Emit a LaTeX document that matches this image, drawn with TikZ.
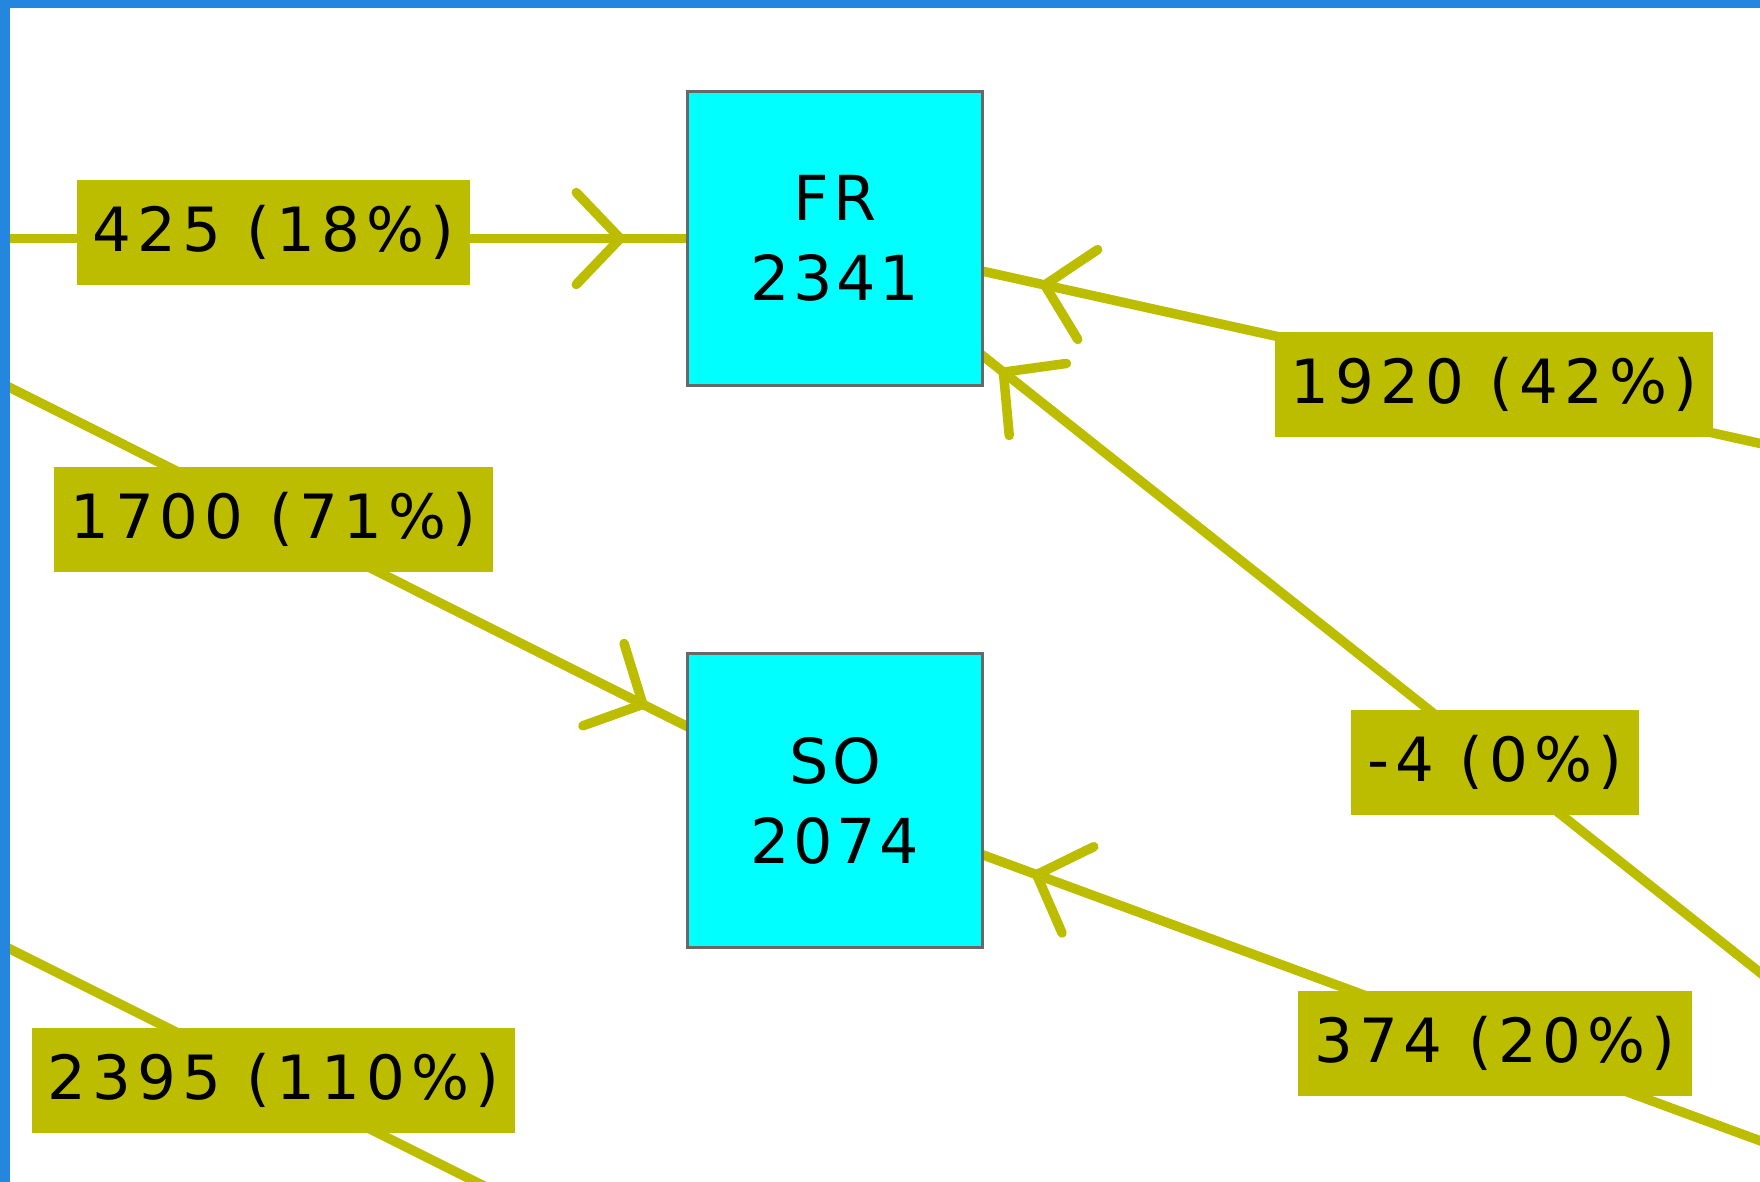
\documentclass[tikz,border=0pt]{standalone}
\usepackage{fontspec}
\setmainfont{DejaVu Sans}[LetterSpace=6]
\newfontfamily\flowfont{DejaVu Sans}[LetterSpace=10]
\usetikzlibrary{arrows.meta,backgrounds,decorations.markings}

\definecolor{flowcol}{RGB}{189,189,0}
\definecolor{boxcol}{RGB}{0,255,255}
\definecolor{rimcol}{RGB}{104,104,104}
\definecolor{framecol}{RGB}{36,134,222}

\begin{document}
\begin{tikzpicture}[x=1pt,y=-1pt,node distance=562pt,
                    flow/.style={color=flowcol,line width=9.5pt},
                    into/.style={postaction={decorate},decoration={markings,
                      mark=at position -210pt with {\arrow{Straight Barb[length=44pt,width=92pt,round]}}}}]
  \tikzstyle{region}=[draw=rimcol,line width=3.5pt,fill=boxcol,text=black,
                      minimum width=295pt,minimum height=294pt,inner sep=0pt,
                      align=center,font=\fontsize{62}{80}\selectfont]
  \tikzstyle{amount}=[fill=flowcol,text=black,inner xsep=16pt,inner ysep=0pt,
                      minimum height=105pt,font=\flowfont\fontsize{61}{61}\selectfont]

  \useasboundingbox (0,0) rectangle (1760,1182);

  \node[region] (FR) at (835,238.5)  {FR\\2341};
  \node[region] (SO) [below of=FR]   {SO\\2074};

  % nodes beyond the visible part
  \coordinate (westA)  at (-288,238.5);
  \coordinate (westB)  at (-288,800);
  \coordinate (southC) at (835,1361.5);
  \coordinate (eastD)  at (2153,530.5);
  \coordinate (eastE)  at (2155,1286);

  \begin{scope}[on background layer]
    \fill[white] (0,0) rectangle (1760,1182);
    \path (westA) edge [flow,into] node[amount,yshift=6pt] {425 (18\%)} (FR.center)
                  edge [flow,into] node[amount] {1700 (71\%)} (SO.center)
          (westB) edge [flow]      node[amount] {2395 (110\%)} (southC)
          (eastD) edge [flow,into] node[amount] {1920 (42\%)} (FR.center)
          (eastE) edge [flow,into] node[amount] {-4 (0\%)} (FR.center)
                  edge [flow,into] node[amount] {374 (20\%)} (SO.center);
  \end{scope}

  % window edge
  \fill[framecol] (0,0) rectangle (10,1182);
  \fill[framecol] (0,0) rectangle (1760,8);
\end{tikzpicture}
\end{document}
